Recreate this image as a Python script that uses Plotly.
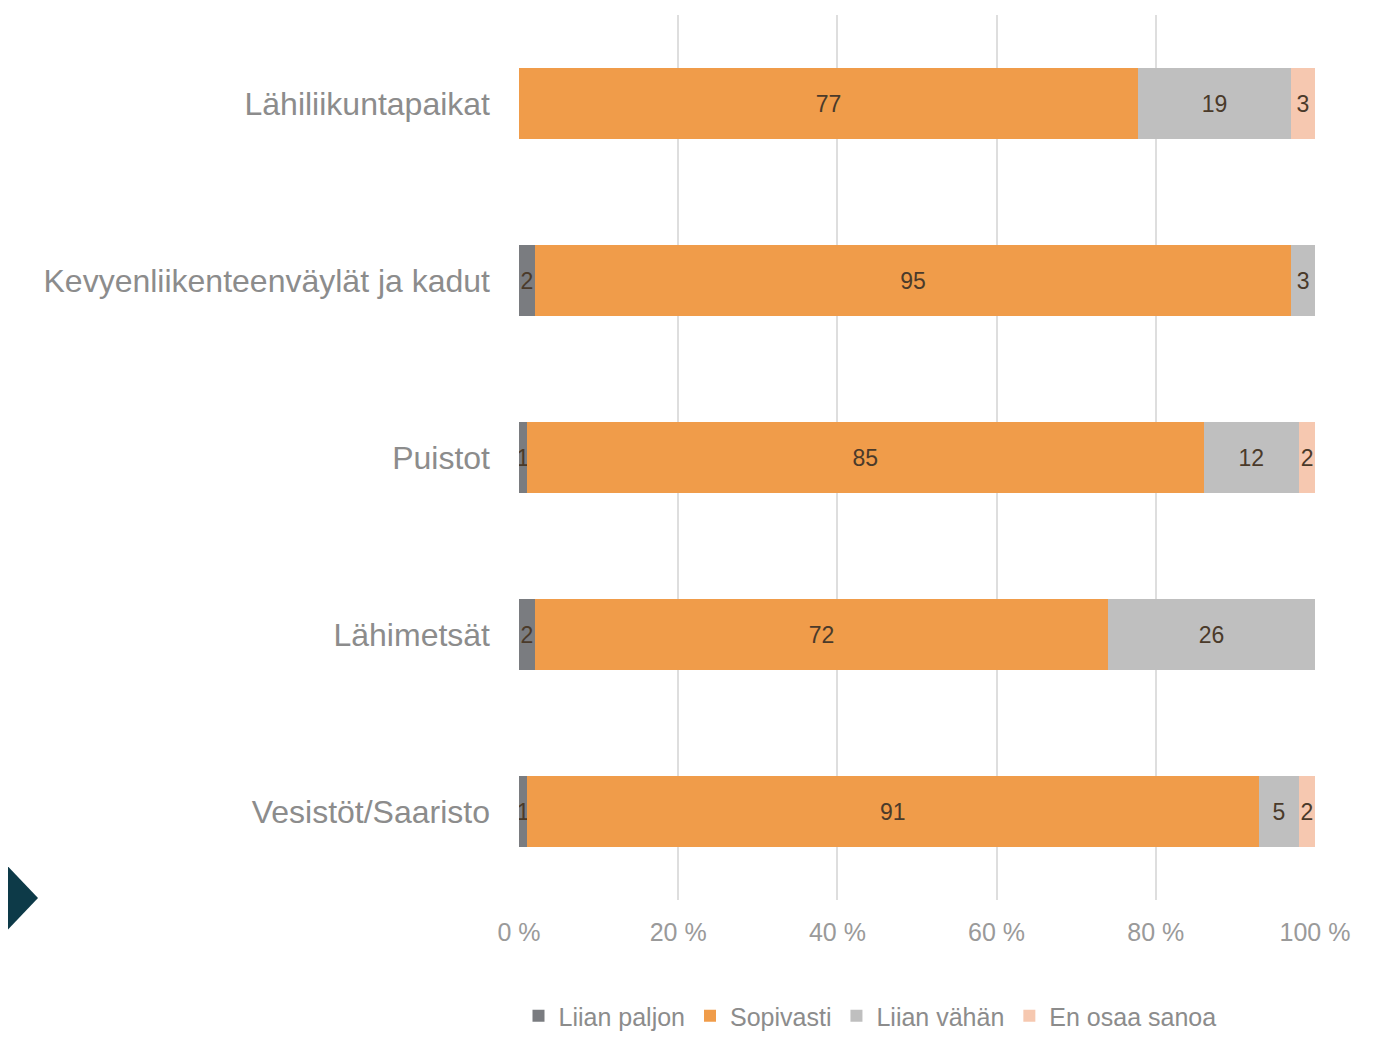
import plotly.graph_objects as go

categories = ["Lähiliikuntapaikat", "Kevyenliikenteenväylät ja kadut", "Puistot", "Lähimetsät", "Vesistöt/Saaristo"]
series_names = ["Liian paljon", "Sopivasti", "Liian vähän", "En osaa sanoa"]
liian_paljon = [0, 2, 1, 2, 1]
sopivasti = [77, 95, 85, 72, 91]
liian_vahan = [19, 3, 12, 26, 5]
en_osaa = [3, 0, 2, 0, 2]
x_ticks = [0, 20, 40, 60, 80, 100]
x_tick_labels = ["0 %", "20 %", "40 %", "60 %", "80 %", "100 %"]

values = [liian_paljon, sopivasti, liian_vahan, en_osaa]
colors = ["#7a7c80", "#f09c4a", "#bfbfbf", "#f6c8b0"]

FONT = "Liberation Sans, Arial"

fig = go.Figure()
for name, vals, col in zip(series_names, values, colors):
    fig.add_trace(go.Bar(
        y=categories, x=vals, name=name, orientation="h",
        marker=dict(color=col, line=dict(width=0)),
        text=[str(v) if v > 0 else "" for v in vals],
        textposition="inside", insidetextanchor="middle",
        constraintext="none",
        textfont=dict(family=FONT, size=23, color="#4a3a2a"),
        hoverinfo="skip",
    ))

# page has an 8px body margin; figure coordinates = screen - 8
OFF = 8
W, H = 1396 - 2 * OFF, 1039 - OFF
ml = 519 - OFF
mr = W - (1315 - OFF)
mt = 15 - OFF
mb = H - (900 - OFF)
pw, ph = W - ml - mr, H - mt - mb

def px2paper(px, py):
    return (px - OFF - ml) / pw, (H - mb - (py - OFF)) / ph

p1 = px2paper(0, 858)
p2 = px2paper(38, 898)
p3 = px2paper(0, 938)
chev = f"M {p1[0]},{p1[1]} L {p2[0]},{p2[1]} L {p3[0]},{p3[1]} Z"

fig.update_layout(
    width=W, height=H,
    barmode="stack", barnorm="percent", bargap=0.6,
    margin=dict(l=ml, r=mr, t=mt, b=mb),
    plot_bgcolor="white", paper_bgcolor="white",
    font=dict(family=FONT, color="#8c8c8c"),
    showlegend=True,
    legend=dict(orientation="h", xref="paper", x=(870 - OFF - ml) / pw, xanchor="center",
                yref="container", y=(H - (1016 - OFF)) / H, yanchor="middle",
                font=dict(size=25, color="#8c8c8c"), itemwidth=30, traceorder="normal",
                itemclick=False),
    shapes=[dict(type="path", xref="paper", yref="paper", path=chev,
                 fillcolor="#0d3a48", line=dict(width=0), layer="above")],
)
fig.update_xaxes(range=[0, 100], tickvals=x_ticks, ticktext=x_tick_labels,
                 showgrid=True, gridcolor="#dedede", gridwidth=2,
                 zeroline=False, showline=False,
                 tickfont=dict(size=25, color="#9a9a9a"), ticklabelstandoff=15)
fig.update_yaxes(categoryorder="array", categoryarray=categories, autorange="reversed",
                 showgrid=False, showline=False, zeroline=False,
                 tickfont=dict(size=32, color="#8c8c8c"), ticklabelstandoff=28)

fig.write_html("out.html")
